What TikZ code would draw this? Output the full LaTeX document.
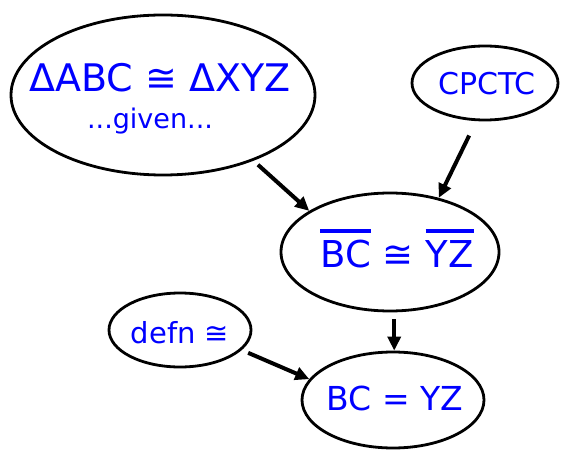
\documentclass[tikz,border=0pt]{standalone}
\usepackage{fontspec}
\setmainfont{DejaVu Sans}
\usetikzlibrary{shapes.geometric,arrows.meta}
\definecolor{txtblue}{RGB}{0,0,255}
\newcommand{\barred}[1]{\vbox{\hrule height 4pt\kern 7pt\hbox{#1}}}
\tikzset{
  ell/.style={draw=black, line width=2.8pt, ellipse, inner sep=0pt},
  lbl/.style={text=txtblue, anchor=base, inner sep=0pt},
  arr/.style={line width=4pt, -{Triangle[length=14pt,width=13pt]}}
}
\begin{document}
\begin{tikzpicture}[x=1pt,y=1pt]
\useasboundingbox (0,0) rectangle (561,450);
\node[ell, minimum width=304pt, minimum height=160pt] (A) at (163,355) {};
\node[ell, minimum width=146pt, minimum height=74pt] (B) at (485,367) {};
\node[ell, minimum width=218pt, minimum height=118pt] (C) at (390,198) {};
\node[ell, minimum width=142pt, minimum height=74pt] (D) at (180,120) {};
\node[ell, minimum width=182pt, minimum height=96pt] (E) at (393,50) {};
\node[lbl, font=\fontsize{38}{40}\selectfont] (At) at (160,358) {ΔABC ≅ ΔXYZ};
\node[lbl, font=\fontsize{27}{29}\selectfont] (Ag) at (150,321) {...given...};
\node[lbl, font=\fontsize{30}{32}\selectfont] (Bt) at (487,355) {CPCTC};
\node[lbl, font=\fontsize{37}{40}\selectfont] (Ct) at (397,183) {\barred{BC} ≅ \barred{YZ}};
\node[lbl, font=\fontsize{29}{31}\selectfont] (Dt) at (180,107) {defn ≅};
\node[lbl, font=\fontsize{33}{35}\selectfont] (Et) at (395,40) {BC = YZ};
\draw[arr, shorten <=6pt] (A.-36) -- (C.153);
\draw[arr, shorten <=16pt] (B.-103) -- (C.48);
\draw[arr, shorten <=7pt] (C.-86) -- (C.-86 |- E.north);
\draw[arr, shorten <=7pt] (D.-18) -- (E.166);
\end{tikzpicture}
\end{document}
